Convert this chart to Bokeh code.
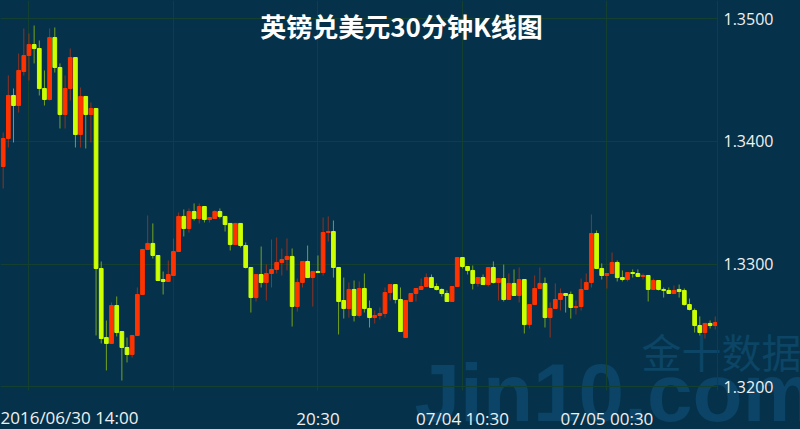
from bokeh.plotting import figure
from bokeh.models import (FixedTicker, PrintfTickFormatter, Label, ColumnDataSource,
                          Range1d, GlobalInlineStyleSheet)
from bokeh.embed import file_html
from bokeh.resources import INLINE

title = "英镑兑美元30分钟K线图"

opens = [1.33796, 1.34024, 1.34375, 1.34293, 1.34570, 1.34701, 1.34790, 1.34758, 1.34432, 1.34342,
         1.34847, 1.34603, 1.34220, 1.34432, 1.34684, 1.34057, 1.34367, 1.34220, 1.34269, 1.32965,
         1.32402, 1.32354, 1.32663, 1.32451, 1.32321, 1.32264, 1.32419, 1.32753, 1.33120, 1.33169,
         1.33071, 1.32875, 1.32859, 1.32908, 1.33103, 1.33389, 1.33291, 1.33429, 1.33372, 1.33470,
         1.33364, 1.33372, 1.33429, 1.33389, 1.33332, 1.33160, 1.33332, 1.33152, 1.32973, 1.32728,
         1.32916, 1.32851, 1.32924, 1.32957, 1.33014, 1.33038, 1.33063, 1.32655, 1.32851, 1.33022,
         1.32891, 1.32940, 1.32932, 1.33258, 1.33266, 1.32973, 1.32704, 1.32639, 1.32794, 1.32582,
         1.32802, 1.32639, 1.32565, 1.32582, 1.32598, 1.32769, 1.32834, 1.32712, 1.32402, 1.32696,
         1.32761, 1.32794, 1.32818, 1.32891, 1.32818, 1.32794, 1.32761, 1.32696, 1.32818, 1.33054,
         1.32981, 1.32949, 1.32843, 1.32891, 1.32834, 1.32973, 1.32851, 1.32883, 1.32712, 1.32843,
         1.32745, 1.32875, 1.32508, 1.32671, 1.32802, 1.32843, 1.32565, 1.32639, 1.32712, 1.32761,
         1.32753, 1.32647, 1.32655, 1.32794, 1.32851, 1.33250, 1.32965, 1.32908, 1.32924, 1.33014,
         1.32891, 1.32875, 1.32932, 1.32924, 1.32900, 1.32908, 1.32794, 1.32867, 1.32794, 1.32786,
         1.32761, 1.32794, 1.32786, 1.32671, 1.32623, 1.32500, 1.32443, 1.32517, 1.32500]

highs = [1.34073, 1.34538, 1.34432, 1.34717, 1.34921, 1.34880, 1.34945, 1.34823, 1.34579, 1.34921,
         1.34929, 1.34636, 1.34538, 1.34758, 1.34684, 1.34440, 1.34367, 1.34318, 1.34269, 1.33022,
         1.32541, 1.32688, 1.32737, 1.32451, 1.32402, 1.32419, 1.32810, 1.33120, 1.33397, 1.33332,
         1.33071, 1.32940, 1.33030, 1.33209, 1.33421, 1.33446, 1.33454, 1.33495, 1.33495, 1.33470,
         1.33380, 1.33438, 1.33454, 1.33389, 1.33332, 1.33332, 1.33332, 1.33177, 1.32973, 1.32916,
         1.33144, 1.32997, 1.33201, 1.33217, 1.33128, 1.33209, 1.33128, 1.32883, 1.33022, 1.33152,
         1.32940, 1.33071, 1.33380, 1.33389, 1.33356, 1.32973, 1.32891, 1.32851, 1.32867, 1.32859,
         1.32924, 1.32704, 1.32623, 1.32647, 1.32810, 1.32834, 1.32834, 1.32810, 1.32704, 1.32761,
         1.32802, 1.32883, 1.32924, 1.32916, 1.32843, 1.32802, 1.32786, 1.32818, 1.33054, 1.33054,
         1.32981, 1.32989, 1.32891, 1.32916, 1.32973, 1.33022, 1.32883, 1.32997, 1.32924, 1.32957,
         1.32973, 1.32875, 1.32671, 1.32908, 1.32973, 1.32891, 1.32688, 1.32843, 1.32802, 1.32761,
         1.32777, 1.32704, 1.32883, 1.32924, 1.33405, 1.33275, 1.33006, 1.32924, 1.33095, 1.33030,
         1.32949, 1.32932, 1.32957, 1.32957, 1.32924, 1.32908, 1.32883, 1.32867, 1.32810, 1.32810,
         1.32826, 1.32834, 1.32802, 1.32720, 1.32639, 1.32574, 1.32517, 1.32541, 1.32574]

lows = [1.33617, 1.33951, 1.33992, 1.34236, 1.34538, 1.34497, 1.34636, 1.34375, 1.34293, 1.34334,
        1.34562, 1.34106, 1.34106, 1.34334, 1.33951, 1.33951, 1.33943, 1.33992, 1.32419, 1.32354,
        1.32134, 1.32354, 1.32411, 1.32052, 1.32199, 1.32239, 1.32419, 1.32753, 1.33120, 1.33046,
        1.32867, 1.32753, 1.32859, 1.32908, 1.33103, 1.33226, 1.33258, 1.33356, 1.33332, 1.33340,
        1.33340, 1.33372, 1.33372, 1.33266, 1.33112, 1.33160, 1.33136, 1.32965, 1.32606, 1.32696,
        1.32810, 1.32704, 1.32810, 1.32924, 1.32908, 1.32949, 1.32492, 1.32614, 1.32810, 1.32891,
        1.32655, 1.32932, 1.32908, 1.33185, 1.32891, 1.32427, 1.32557, 1.32565, 1.32533, 1.32565,
        1.32606, 1.32484, 1.32517, 1.32549, 1.32565, 1.32704, 1.32680, 1.32451, 1.32402, 1.32696,
        1.32696, 1.32794, 1.32818, 1.32810, 1.32786, 1.32737, 1.32696, 1.32696, 1.32818, 1.32965,
        1.32916, 1.32794, 1.32818, 1.32834, 1.32818, 1.32843, 1.32704, 1.32696, 1.32712, 1.32745,
        1.32688, 1.32435, 1.32476, 1.32671, 1.32802, 1.32484, 1.32402, 1.32639, 1.32623, 1.32606,
        1.32557, 1.32590, 1.32623, 1.32794, 1.32810, 1.32965, 1.32875, 1.32802, 1.32924, 1.32859,
        1.32859, 1.32859, 1.32891, 1.32900, 1.32875, 1.32696, 1.32794, 1.32786, 1.32728, 1.32761,
        1.32761, 1.32728, 1.32663, 1.32623, 1.32443, 1.32419, 1.32394, 1.32476, 1.32468]

closes = [1.34024, 1.34375, 1.34293, 1.34579, 1.34701, 1.34790, 1.34758, 1.34432, 1.34342, 1.34847,
          1.34603, 1.34220, 1.34432, 1.34684, 1.34057, 1.34367, 1.34220, 1.34269, 1.32965, 1.32394,
          1.32354, 1.32663, 1.32443, 1.32321, 1.32264, 1.32419, 1.32753, 1.33120, 1.33169, 1.33071,
          1.32867, 1.32859, 1.32916, 1.33103, 1.33389, 1.33291, 1.33429, 1.33372, 1.33470, 1.33364,
          1.33380, 1.33429, 1.33389, 1.33323, 1.33160, 1.33332, 1.33152, 1.32973, 1.32728, 1.32916,
          1.32851, 1.32924, 1.32957, 1.33014, 1.33038, 1.33063, 1.32655, 1.32851, 1.33022, 1.32891,
          1.32940, 1.32932, 1.33258, 1.33266, 1.32973, 1.32696, 1.32639, 1.32794, 1.32582, 1.32802,
          1.32639, 1.32565, 1.32582, 1.32598, 1.32769, 1.32834, 1.32712, 1.32451, 1.32704, 1.32761,
          1.32802, 1.32818, 1.32891, 1.32810, 1.32794, 1.32761, 1.32696, 1.32818, 1.33054, 1.32981,
          1.32949, 1.32843, 1.32891, 1.32834, 1.32973, 1.32851, 1.32883, 1.32712, 1.32843, 1.32745,
          1.32875, 1.32508, 1.32671, 1.32802, 1.32843, 1.32565, 1.32639, 1.32712, 1.32761, 1.32745,
          1.32647, 1.32655, 1.32794, 1.32851, 1.33250, 1.32965, 1.32908, 1.32924, 1.33014, 1.32891,
          1.32875, 1.32932, 1.32924, 1.32900, 1.32908, 1.32794, 1.32867, 1.32794, 1.32786, 1.32761,
          1.32786, 1.32777, 1.32671, 1.32631, 1.32500, 1.32443, 1.32517, 1.32500, 1.32525]

# x-axis ticks (bar index) and their labels
tick_idx = [5, 33, 61, 89, 117]
tick_labels = ["", "", "20:30", "07/04 10:30", "07/05 00:30"]
first_label = "2016/06/30 14:00"
y_ticks = [1.32, 1.33, 1.34, 1.35]
watermark_cn = "金十数据"
watermark_en = "Jin10.com"

BG = "#05324a"
GRID = "#14402f"
UP = "#ff3300"
DOWN = "#ccff00"
TXT = "#f0f0f0"

W, H = 800, 429
# chart area (inside the canvas): right edge and bottom edge in pixels
AREA_R, AREA_B = 717, 390
X0, PX_PER_BAR = -0.52, 5.16          # index at left edge, pixels per bar
Y_TOP, PX_PER_UNIT = 1.35149, 12270.0  # price at top edge, pixels per price unit

x_end = X0 + W / PX_PER_BAR
y_bot = Y_TOP - H / PX_PER_UNIT
x_area_end = X0 + AREA_R / PX_PER_BAR
y_area_bot = Y_TOP - AREA_B / PX_PER_UNIT

n = len(opens)
idx = list(range(n))
colors = [UP if c >= o else DOWN for o, c in zip(opens, closes)]
src = ColumnDataSource(dict(
    x=idx, o=opens, h=highs, l=lows, c=closes,
    top=[max(o, c) for o, c in zip(opens, closes)],
    bot=[min(o, c) for o, c in zip(opens, closes)],
    color=colors,
))

p = figure(width=W, height=H, output_backend="svg", toolbar_location=None,
           x_range=Range1d(X0, x_end), y_range=Range1d(y_bot, Y_TOP),
           y_axis_location="right",
           background_fill_color=BG, border_fill_color=BG, outline_line_color=None,
           min_border_left=0, min_border_top=0, min_border_right=0, min_border_bottom=0,
           stylesheets=[GlobalInlineStyleSheet(
               css="html,body{margin:0;padding:0;background:#05324a;overflow:hidden;}")])

# watermark
p.add_layout(Label(x=641, y=H - 350, x_units="screen", y_units="screen", text=watermark_cn,
                   text_font="Noto Sans CJK SC", text_font_size="40px",
                   text_color="#0c4565", text_baseline="middle", level="image"))
p.add_layout(Label(x=414, y=H - 346, x_units="screen", y_units="screen", text=watermark_en,
                   text_font="Liberation Sans", text_font_style="bold", text_font_size="82px",
                   text_color="#0b4466", text_baseline="top", level="image"))

p.segment(x0="x", y0="h", x1="x", y1="l", source=src, line_color="color",
          line_width=1, line_alpha=0.55)
p.vbar(x="x", top="top", bottom="bot", width=0.72, source=src,
       fill_color="color", line_color="color", line_width=1)

# axes pinned inside the canvas
p.yaxis.fixed_location = x_area_end
p.xaxis.fixed_location = y_area_bot
p.yaxis.ticker = FixedTicker(ticks=y_ticks)
p.yaxis.formatter = PrintfTickFormatter(format="%.4f")
p.yaxis.bounds = (y_area_bot, Y_TOP)
p.xaxis.ticker = FixedTicker(ticks=tick_idx)
p.xaxis.major_label_overrides = {t: l for t, l in zip(tick_idx, tick_labels)}
for ax in (p.xaxis[0], p.yaxis[0]):
    ax.major_tick_line_color = None
    ax.minor_tick_line_color = None
    ax.major_tick_out = 0
    ax.major_tick_in = 0
    ax.axis_line_color = GRID
    ax.major_label_text_color = TXT
    ax.major_label_text_font = "Open Sans"
p.yaxis.major_label_text_font_size = "16px"
p.xaxis.major_label_text_font_size = "17px"
p.yaxis.major_label_standoff = 6
p.xaxis.major_label_standoff = 16
p.xaxis.axis_line_color = None

p.xgrid.ticker = FixedTicker(ticks=tick_idx)
p.ygrid.ticker = FixedTicker(ticks=y_ticks)
p.xgrid.grid_line_color = GRID
p.ygrid.grid_line_color = GRID
try:
    p.xgrid.cross_bounds = (y_area_bot, Y_TOP)
    p.ygrid.cross_bounds = (X0, x_area_end)
except Exception:
    pass

p.add_layout(Label(x=0, y=H - 417, x_units="screen", y_units="screen", text=first_label,
                   text_font="Open Sans", text_font_size="17px", text_color=TXT,
                   text_baseline="middle", text_align="left"))

p.add_layout(Label(x=401, y=H - 25, x_units="screen", y_units="screen", text=title,
                   text_font="Noto Sans CJK SC", text_font_style="bold", text_font_size="26px",
                   text_color="white", text_baseline="middle", text_align="center"))

open("out.html", "w").write(file_html(p, INLINE))
